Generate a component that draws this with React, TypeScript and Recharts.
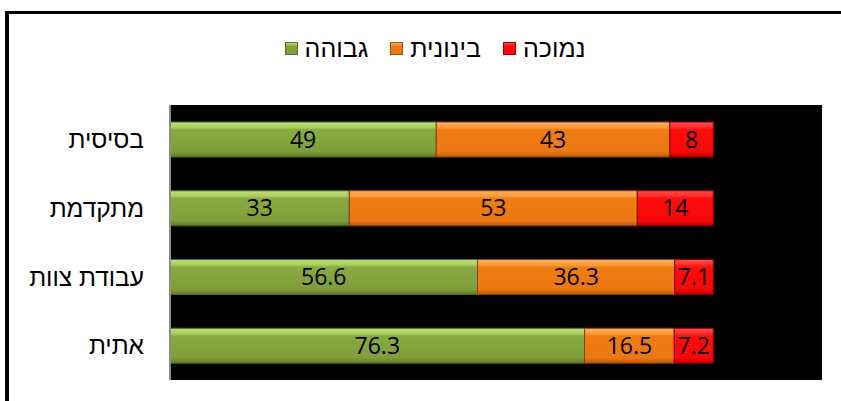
import { BarChart, Bar, XAxis, YAxis, CartesianGrid, LabelList } from "recharts";

const categories = ["בסיסית", "מתקדמת", "עבודת צוות", "אתית"];
const high = [49, 33, 56.6, 76.3];
const medium = [43, 53, 36.3, 16.5];
const low = [8, 14, 7.1, 7.2];

const seriesNames = { high: "גבוהה", medium: "בינונית", low: "נמוכה" };

const data = categories.map((name, i) => ({
  name,
  high: high[i],
  medium: medium[i],
  low: low[i],
}));

const FONT = '"Open Sans", "DejaVu Sans", sans-serif';
const HEB = '"Liberation Sans", "DejaVu Sans", sans-serif';

const legendItems = [
  { key: "high", stroke: "#5b7428", top: "#c0e47a", main: "#7f9e3a" },
  { key: "medium", stroke: "#a8500a", top: "#ffb060", main: "#ec7812" },
  { key: "low", stroke: "#a00000", top: "#ff5050", main: "#f80808" },
];

function LegendBox() {
  return (
    <div
      style={{
        position: "absolute",
        left: 0,
        top: 34,
        width: 870,
        display: "flex",
        justifyContent: "center",
        alignItems: "center",
        gap: 22,
        fontFamily: HEB,
        fontSize: 25,
        color: "#000",
      }}
    >
      {legendItems.map((it) => (
        <div key={it.key} style={{ display: "flex", alignItems: "center", gap: 7 }}>
          <svg width={13} height={13}>
            <defs>
              <linearGradient id={"lg" + it.key} x1="0" y1="0" x2="0" y2="1">
                <stop offset="0%" stopColor={it.top} />
                <stop offset="35%" stopColor={it.main} />
                <stop offset="100%" stopColor={it.main} />
              </linearGradient>
            </defs>
            <rect x={0.5} y={0.5} width={12} height={12} fill={"url(#lg" + it.key + ")"} stroke={it.stroke} />
          </svg>
          <span>{seriesNames[it.key as keyof typeof seriesNames]}</span>
        </div>
      ))}
    </div>
  );
}

export default function App() {
  return (
    <div style={{ position: "absolute", left: 0, top: 0, width: 841, height: 401, background: "#fff", overflow: "hidden" }}>
      <div
        style={{
          position: "absolute",
          left: 5,
          top: 11,
          width: 900,
          height: 500,
          borderLeft: "4px solid #000",
          borderTop: "3px solid #000",
        }}
      />
      <LegendBox />
      <div style={{ position: "absolute", left: 0, top: 0 }}>
        <BarChart
          width={841}
          height={401}
          data={data}
          layout="vertical"
          margin={{ top: 105, right: 19, bottom: 21, left: 0 }}
          barSize={35}
        >
          <defs>
            <linearGradient id="gHigh" x1="0" y1="0" x2="0" y2="1">
              <stop offset="0%" stopColor="#c0e47a" />
              <stop offset="16%" stopColor="#a8cc5c" />
              <stop offset="22%" stopColor="#89aa40" />
              <stop offset="85%" stopColor="#7f9e3a" />
              <stop offset="100%" stopColor="#5f7a2a" />
            </linearGradient>
            <linearGradient id="gMed" x1="0" y1="0" x2="0" y2="1">
              <stop offset="0%" stopColor="#ffb060" />
              <stop offset="16%" stopColor="#fb9a38" />
              <stop offset="22%" stopColor="#f07c14" />
              <stop offset="85%" stopColor="#ec7812" />
              <stop offset="100%" stopColor="#b85a0c" />
            </linearGradient>
            <linearGradient id="gLow" x1="0" y1="0" x2="0" y2="1">
              <stop offset="0%" stopColor="#ff5050" />
              <stop offset="16%" stopColor="#ff2a2a" />
              <stop offset="22%" stopColor="#ff0c0c" />
              <stop offset="85%" stopColor="#f80808" />
              <stop offset="100%" stopColor="#b80000" />
            </linearGradient>
          </defs>
          <CartesianGrid fill="#000" horizontal={false} vertical={false} />
          <XAxis type="number" domain={[0, 120]} hide />
          <YAxis
            type="category"
            dataKey="name"
            width={170}
            axisLine={{ stroke: "#8c8c8c", strokeWidth: 2 }}
            tickLine={false}
            tickSize={0}
            tickMargin={26}
            tick={{ fill: "#000", fontSize: 24.5, fontFamily: HEB }}
          />
          <Bar dataKey="high" name={seriesNames.high} stackId="s" fill="url(#gHigh)" stroke="#4e6322" strokeWidth={1} isAnimationActive={false}>
            <LabelList dataKey="high" position="center" fill="#000" fontSize={23} fontFamily={FONT} />
          </Bar>
          <Bar dataKey="medium" name={seriesNames.medium} stackId="s" fill="url(#gMed)" stroke="#8a4208" strokeWidth={1} isAnimationActive={false}>
            <LabelList dataKey="medium" position="center" fill="#000" fontSize={23} fontFamily={FONT} />
          </Bar>
          <Bar dataKey="low" name={seriesNames.low} stackId="s" fill="url(#gLow)" stroke="#8a0000" strokeWidth={1} isAnimationActive={false}>
            <LabelList dataKey="low" position="center" fill="#000" fontSize={23} fontFamily={FONT} />
          </Bar>
        </BarChart>
      </div>
    </div>
  );
}
